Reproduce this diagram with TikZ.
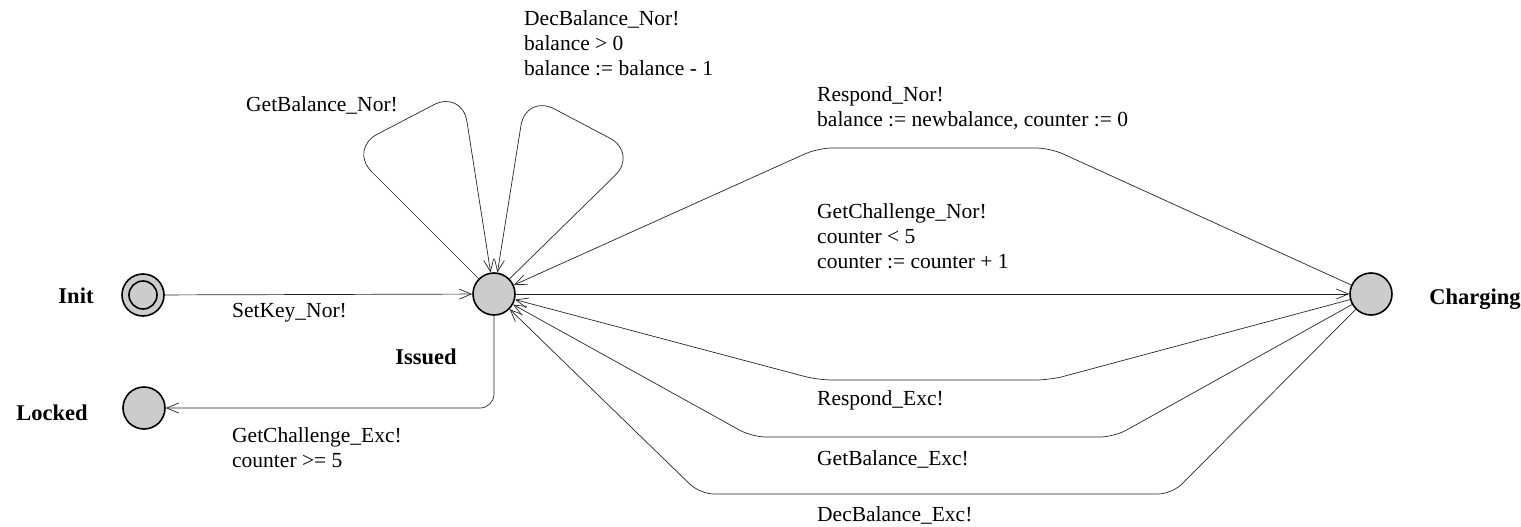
\documentclass[tikz,border=0pt]{standalone}
\usepackage{fontspec}
\setmainfont{Liberation Serif}
\usetikzlibrary{arrows.meta}
\begin{document}
\begin{tikzpicture}[x=1pt,y=-1pt,
  state/.style={circle, draw=black, line width=1.6pt, fill=gray!40, minimum size=42pt, inner sep=0pt},
  edge/.style={draw=black!85, line width=0.7pt, -{Straight Barb[length=12pt,width=10pt]}},
  loop edge/.style={edge, rounded corners=32pt},
  bent edge/.style={edge, rounded corners=14pt},
  lbl/.style={font=\fontsize{21.5}{25}\selectfont, inner sep=0pt, align=left, anchor=north west},
  sname/.style={font=\fontsize{22.5}{25}\selectfont\bfseries, inner sep=0pt}]
\useasboundingbox (0,0) rectangle (1521,527);

% states
\node[state] (init) at (143,295) {};
\draw[line width=1.6pt] (init.center) circle (14pt);
\node[state] (is) at (494,294) {};
\node[state] (ch) at (1371,294) {};
\node[state] (lk) at (144,408) {};

% state names
\node[sname] (ninit) at (76,296) {Init};
\node[sname] (nis) at (426,357) {Issued};
\node[sname] (nch) at (1475,299) {Charging};
\node[sname] (nlk) at (52,413) {Locked};

% corner points
\coordinate (l1) at (349,149);
\coordinate (l2) at (462,90);
\coordinate (r1) at (638,153);
\coordinate (r2) at (526,94);
\coordinate (rn1) at (1050,148);
\coordinate (rn2) at (818,148);
\coordinate (re1) at (1050,380);
\coordinate (re2) at (818,380);
\coordinate (gb1) at (1114,437);
\coordinate (gb2) at (752,437);
\coordinate (db1) at (1172,494);
\coordinate (db2) at (700,494);

% edges
\draw[edge] (init) -- (is);
\draw[bent edge] (is) |- (lk);
\draw[loop edge] (is) -- (l1) -- (l2) -- (is);
\draw[loop edge] (is) -- (r1) -- (r2) -- (is);
\draw[edge] (is) -- (ch);
\draw[bent edge] (ch) -- (rn1) -- (rn2) -- (is);
\draw[bent edge] (ch) -- (re1) -- (re2) -- (is);
\draw[bent edge] (ch) -- (gb1) -- (gb2) -- (is);
\draw[bent edge] (ch) -- (db1) -- (db2) -- (is);

% labels
\node[lbl] (t1) at (232,303) {SetKey\_Nor!};
\node[lbl] (t2) at (232,427) {GetChallenge\_Exc!\\counter >= 5};
\node[lbl] (t3) at (246,96) {GetBalance\_Nor!};
\node[lbl] (t4) at (524,10) {DecBalance\_Nor!\\balance > 0\\balance := balance - 1};
\node[lbl] (t5) at (817,86) {Respond\_Nor!\\balance := newbalance, counter := 0};
\node[lbl] (t6) at (817,203) {GetChallenge\_Nor!\\counter < 5\\counter := counter + 1};
\node[lbl] (t7) at (817,390) {Respond\_Exc!};
\node[lbl] (t8) at (817,450) {GetBalance\_Exc!};
\node[lbl] (t9) at (817,506) {DecBalance\_Exc!};
\end{tikzpicture}
\end{document}
